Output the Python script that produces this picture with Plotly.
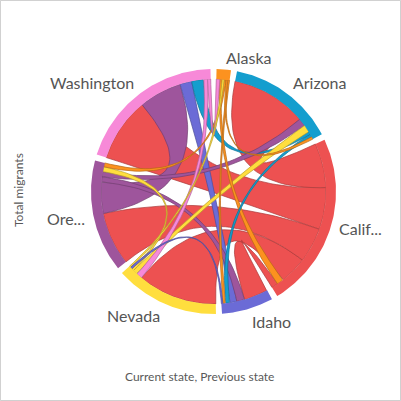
import numpy as np
import plotly.graph_objects as go

states = ["Alaska", "Arizona", "California", "Idaho", "Nevada", "Oregon", "Washington"]
labels = ["Alaska", "Arizona", "Calif...", "Idaho", "Nevada", "Ore...", "Washington"]
colors = ["#fc921f", "#149ece", "#ed5151", "#6b6bd6", "#ffde3e", "#9e559c", "#f789d8"]

# migrants by current state (one list per state), columns = previous state in `states` order
to_alaska = [0, 900, 1200, 900, 1000, 1000, 1800]
to_arizona = [1300, 0, 39000, 1400, 3800, 4000, 1600]
to_california = [3600, 23000, 0, 3400, 14000, 18000, 21600]
to_idaho = [1500, 2200, 12500, 0, 800, 4000, 3500]
to_nevada = [800, 2500, 41000, 1000, 0, 1200, 3000]
to_oregon = [2000, 2700, 27500, 2800, 2500, 0, 16000]
to_washington = [1600, 6000, 33000, 6200, 2200, 22000, 0]

M = np.array([to_alaska, to_arizona, to_california, to_idaho,
              to_nevada, to_oregon, to_washington], dtype=float)
n = len(states)

R_OUT = 1.0
R_IN = 0.918
R_LABEL = 1.055
PAD = np.radians(2.85)
FONT = "Lato, 'Open Sans', Arial, sans-serif"


def darker(hex_color, f=0.72):
    h = hex_color.lstrip("#")
    r, g, b = (int(h[i:i + 2], 16) for i in (0, 2, 4))
    return f"rgb({int(r * f)},{int(g * f)},{int(b * f)})"


# chord layout, d3 style: groups in order, subgroups sorted descending
k = (2 * np.pi - PAD * n) / M.sum()
groups = []
sub = {}
a = PAD / 2
for i in range(n):
    g0 = a
    for j in sorted(range(n), key=lambda j: -M[i, j]):
        if M[i, j] <= 0:
            continue
        sub[(i, j)] = (a, a + M[i, j] * k)
        a += M[i, j] * k
    groups.append((g0, a))
    a += PAD


def arc(r, a0, a1, num=40):
    t = np.linspace(a0, a1, num)
    return r * np.sin(t), r * np.cos(t)


def bez(p0, p2, num=40):
    t = np.linspace(0, 1, num)
    # quadratic curve with control point at the centre
    return (1 - t) ** 2 * p0[0] + t ** 2 * p2[0], (1 - t) ** 2 * p0[1] + t ** 2 * p2[1]


def ribbon(s, t, r=R_IN):
    xs, ys = arc(r, *s)
    x1, y1 = bez((xs[-1], ys[-1]), (r * np.sin(t[0]), r * np.cos(t[0])))
    xt, yt = arc(r, *t)
    x2, y2 = bez((xt[-1], yt[-1]), (xs[0], ys[0]))
    return np.concatenate([xs, x1, xt, x2]), np.concatenate([ys, y1, yt, y2])


fig = go.Figure()

chords = []
for i in range(n):
    for j in range(i + 1, n):
        if M[i, j] > 0 or M[j, i] > 0:
            chords.append((i, j))
chords.sort(key=lambda c: -max(M[c[0], c[1]], M[c[1], c[0]]))

for i, j in chords:
    # colour = state at the thinner end (origin of the larger flow)
    c = colors[i] if M[i, j] < M[j, i] else colors[j]
    x, y = ribbon(sub[(i, j)], sub[(j, i)])
    fig.add_trace(go.Scatter(
        x=x, y=y, mode="lines", fill="toself", fillcolor=c,
        line=dict(color=darker(c), width=0.7),
        hoverinfo="skip", showlegend=False,
    ))

for i, (g0, g1) in enumerate(groups):
    xo, yo = arc(R_OUT, g0, g1, 80)
    xi, yi = arc(R_IN, g1, g0, 80)
    fig.add_trace(go.Scatter(
        x=np.concatenate([xo, xi]), y=np.concatenate([yo, yi]),
        mode="lines", fill="toself", fillcolor=colors[i],
        line=dict(width=0), hoverinfo="skip", showlegend=False,
    ))
    mid = (g0 + g1) / 2
    s, c = np.sin(mid), np.cos(mid)
    # label corner nearest the wheel sits on the label circle
    if c > 0.5:
        ya, dy = "bottom", -6
    elif c < -0.5:
        ya, dy = "top", 6
    else:
        ya, dy = "middle", 0
    fig.add_annotation(
        x=R_LABEL * s, y=R_LABEL * c, text=labels[i], showarrow=False,
        xanchor="left" if s > 0 else "right", yanchor=ya, yshift=dy,
        font=dict(family=FONT, size=16, color="#555555"),
    )

fig.add_annotation(
    x=18 / 401, y=1 - 190 / 401, xref="paper", yref="paper", text="Total migrants",
    textangle=-90, showarrow=False, xanchor="center", yanchor="middle",
    font=dict(family=FONT, size=12, color="#595959"),
)
fig.add_annotation(
    x=199 / 401, y=1 - 376 / 401, xref="paper", yref="paper",
    text="Current state, Previous state", showarrow=False, xanchor="center", yanchor="middle",
    font=dict(family=FONT, size=12, color="#595959"),
)
fig.add_shape(type="rect", xref="paper", yref="paper", x0=0.001, y0=0.001, x1=0.999, y1=0.999,
              line=dict(color="#cccccc", width=1))

# centre of the wheel at (213.5, 191.5) px, outer radius 122.5 px
px = 122.5
fig.update_layout(
    width=401, height=401,
    margin=dict(l=0, r=0, t=0, b=0),
    paper_bgcolor="white", plot_bgcolor="white",
    xaxis=dict(range=[-213.5 / px, (401 - 213.5) / px], visible=False, fixedrange=True),
    yaxis=dict(range=[-(401 - 191.5) / px, 191.5 / px], visible=False, fixedrange=True),
    showlegend=False,
)

fig.write_html("out.html", config={"displayModeBar": False},
               post_script="document.body.style.margin='0';")
